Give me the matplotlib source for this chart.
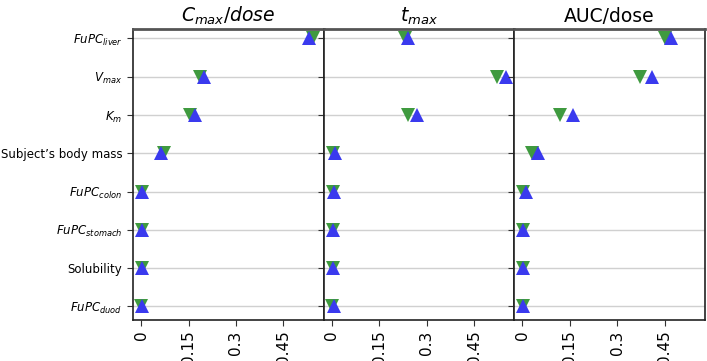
import matplotlib
matplotlib.use("Agg")
import matplotlib.pyplot as plt
import numpy as np

params = [r"$FuPC_{liver}$", r"$V_{max}$", r"$K_m$", "Subject\u2019s body mass",
          r"$FuPC_{colon}$", r"$FuPC_{stomach}$", "Solubility", r"$FuPC_{duod}$"]

titles = [r"$C_{max}/dose$", r"$t_{max}$", "AUC/dose"]

# green down-triangles
series_a = {
    "cmax": [0.542, 0.185, 0.155, 0.073, 0.003, 0.002, 0.002, 0.001],
    "tmax": [0.230, 0.521, 0.241, 0.005, 0.004, 0.003, 0.003, 0.002],
    "auc":  [0.452, 0.371, 0.120, 0.030, 0.003, 0.002, 0.002, 0.002],
}
# blue up-triangles
series_b = {
    "cmax": [0.530, 0.200, 0.170, 0.062, 0.004, 0.003, 0.004, 0.002],
    "tmax": [0.241, 0.552, 0.270, 0.009, 0.008, 0.004, 0.004, 0.006],
    "auc":  [0.470, 0.410, 0.160, 0.050, 0.010, 0.003, 0.003, 0.003],
}
keys = ["cmax", "tmax", "auc"]
xticks = [0, 0.15, 0.3, 0.45]
xticklabels = ["0", "0.15", "0.3", "0.45"]

fig, axes = plt.subplots(1, 3, figsize=(7.07, 3.61), dpi=100, sharey=True)
fig.subplots_adjust(left=0.188, right=0.997, top=0.92, bottom=0.114, wspace=0)

y = np.arange(len(params))
for ax, key, title in zip(axes, keys, titles):
    for yy in y:
        ax.axhline(yy, color="#d0d0d0", lw=1, zorder=0)
    ax.plot(series_a[key], y, linestyle="none", marker="v", color="#3f9a3f",
            markersize=9.5, markeredgewidth=0, zorder=3)
    ax.plot(series_b[key], y, linestyle="none", marker="^", color="#3a3aee",
            markersize=9.5, markeredgewidth=0, zorder=4)
    ax.set_xlim(-0.026, 0.577)
    ax.set_ylim(7.35, -0.25)
    ax.set_xticks(xticks)
    ax.set_xticklabels(xticklabels, rotation=90, fontsize=11)
    ax.set_title(title, fontsize=13.5, pad=5)
    for s in ["left", "bottom", "right"]:
        ax.spines[s].set_color("#222222")
        ax.spines[s].set_linewidth(1.2)
    ax.spines["top"].set_color("#555555")
    ax.spines["top"].set_linewidth(2)
    ax.tick_params(axis="y", length=4, color="#333333")
    ax.tick_params(axis="x", length=4, color="#333333")

axes[0].set_yticks(y)
axes[0].set_yticklabels(params, fontsize=8.5)

fig.savefig("out.png", dpi=100)
